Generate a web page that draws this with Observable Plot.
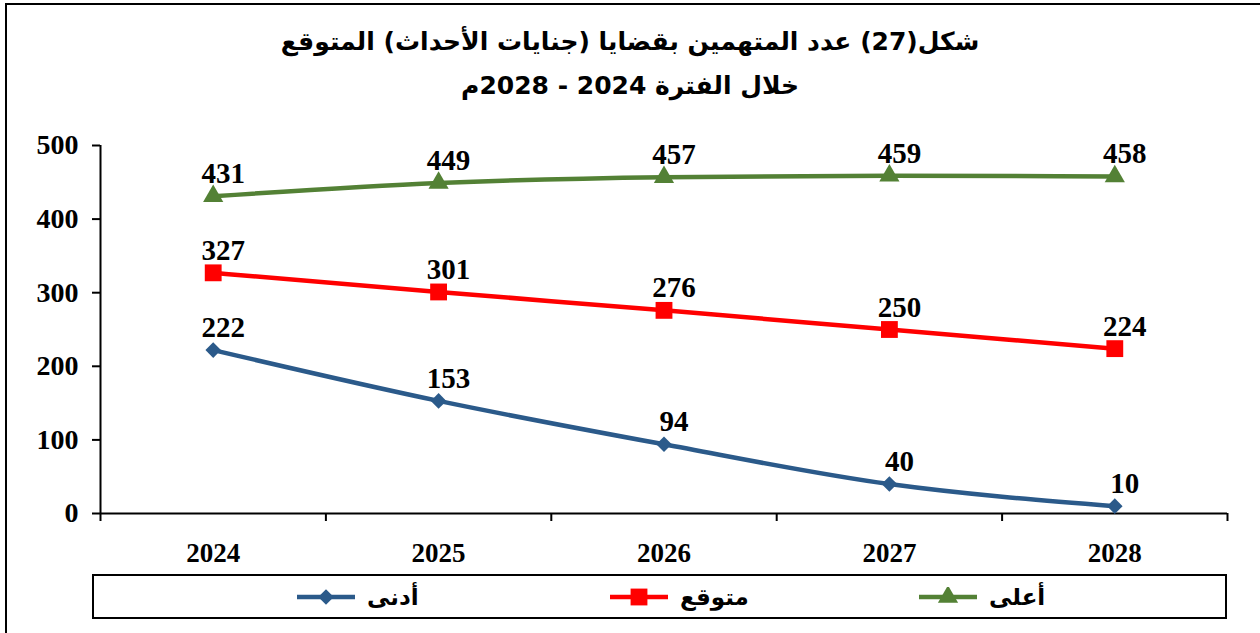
<!DOCTYPE html>
<html>
<head>
<meta charset="utf-8">
<script src="https://cdn.jsdelivr.net/npm/d3@7"></script>
<script src="https://cdn.jsdelivr.net/npm/@observablehq/plot@0.6"></script>
<style>
  html, body { margin: 0; padding: 0; background: #fff; }
  #wrap { position: relative; width: 1260px; height: 633px; overflow: hidden; }
  #border { position: absolute; left: 5px; top: 3px; width: 1300px; height: 700px; border-left: 2px solid #000; border-top: 2px solid #000; box-sizing: border-box; }
  #title { position: absolute; left: 0; top: 20px; width: 1260px; text-align: center; direction: rtl;
           font-family: "DejaVu Sans", sans-serif; font-weight: bold; font-size: 25px; line-height: 44px; color: #000; }
  #chart { position: absolute; left: 0; top: 115px; }
  #legend { position: absolute; left: 92px; top: 574px; width: 1135px; height: 45px; border: 2px solid #000; box-sizing: border-box; }
  .li { position: absolute; top: 0; height: 41px; display: flex; align-items: center; direction: ltr;
        font-family: "DejaVu Sans", sans-serif; font-weight: bold; font-size: 23px; }
  .li svg { margin-right: 12px; }
</style>
</head>
<body>
<div id="wrap">
  <div id="border"></div>
  <div id="title">شكل(27) عدد المتهمين بقضايا (جنايات الأحداث) المتوقع<br>خلال الفترة 2024 - 2028م</div>
  <div id="chart"></div>
  <div id="legend"></div>
</div>
<script>
const years = ["2024", "2025", "2026", "2027", "2028"];
const seriesNames = ["أدنى", "متوقع", "أعلى"];
const low = [222, 153, 94, 40, 10];
const expected = [327, 301, 276, 250, 224];
const high = [431, 449, 457, 459, 458];
const yTicks = [0, 100, 200, 300, 400, 500];
const colors = ["#2B5A8A", "#FF0000", "#538135"];
const symbols = ["diamond2", "square", "triangle"];
const radii = [7, 9.5, 7.5];

const valuesBySeries = [low, expected, high];
const data = [];
valuesBySeries.forEach((vals, s) => vals.forEach((v, i) => data.push({series: seriesNames[s], s, i: i + 0.5, year: years[i], value: v})));

const serif = "'Liberation Serif', 'Times New Roman', serif";
const boundaries = d3.range(0, years.length + 1);

const marks = [
  Plot.ruleY([0], {x1: 0, x2: years.length, stroke: "#000", strokeWidth: 2}),
  Plot.ruleX([0], {y1: 0, y2: 500, stroke: "#000", strokeWidth: 2}),
  Plot.axisY({ticks: yTicks, label: null, tickSize: 8, tickPadding: 14, tickFormat: d => d, fontSize: 28, fontWeight: "bold", fontFamily: serif, fill: "#000", strokeWidth: 2}),
  Plot.axisX({ticks: boundaries, label: null, tickSize: 8, tickFormat: () => "", strokeWidth: 2}),
  Plot.axisX({ticks: years.map((y, i) => i + 0.5), label: null, tickSize: 0, tickPadding: 29, tickFormat: d => years[Math.floor(d)], fontSize: 27, fontWeight: "bold", fontFamily: serif, fill: "#000"})
];
seriesNames.forEach((name, s) => {
  const d = data.filter(r => r.s === s);
  marks.push(Plot.line(d, {x: "i", y: "value", stroke: colors[s], strokeWidth: 4.5, curve: "monotone-x"}));
  marks.push(Plot.dot(d, {x: "i", y: "value", symbol: symbols[s], r: radii[s], fill: colors[s], stroke: "none"}));
  marks.push(Plot.text(d, {x: "i", y: "value", text: r => String(r.value), dx: 10, dy: -13, lineAnchor: "bottom", fontSize: 29, fontWeight: "bold", fontFamily: serif, fill: "#000"}));
});

const chart = Plot.plot({
  width: 1260,
  height: 455,
  marginTop: 30,
  marginBottom: 57,
  marginLeft: 100,
  marginRight: 33,
  x: {type: "linear", domain: [0, years.length], axis: null},
  y: {domain: [0, 500], axis: null},
  style: {background: "transparent", overflow: "visible"},
  marks
});
document.getElementById("chart").appendChild(chart);

// legend
const legend = document.getElementById("legend");
const legendLeft = [203, 516, 825];
seriesNames.forEach((name, s) => {
  const item = document.createElement("div");
  item.className = "li";
  item.style.left = legendLeft[s] + "px";
  const sym = d3.symbol(d3[{diamond2: "symbolDiamond2", square: "symbolSquare", triangle: "symbolTriangle"}[symbols[s]]], Math.PI * radii[s] * radii[s])();
  item.innerHTML = `<svg width="58" height="20"><line x1="0" x2="58" y1="10" y2="10" stroke="${colors[s]}" stroke-width="4.5"/><path transform="translate(29,10)" d="${sym}" fill="${colors[s]}"/></svg><span>${name}</span>`;
  legend.appendChild(item);
});
</script>
</body>
</html>
